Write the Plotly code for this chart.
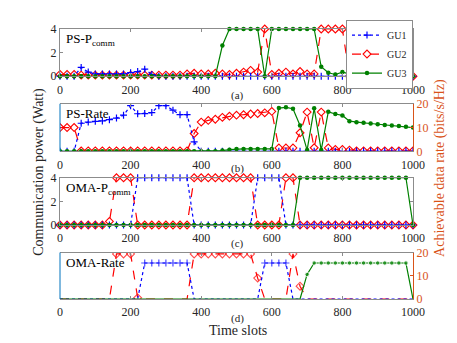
# PS / OMA comparison: communication power and achievable rate per GU
import plotly.graph_objects as go

slots = list(range(0, 1001, 20))

# PS - communication power (Watt)
ps_p_gu1 = [0, 0, 0, 0.75, 0.35, 0.2, 0.2, 0.2, 0.2, 0.2, 0.3, 0.4, 0.6, 0.15, 0, 0, 0,
            0, 0, 0, 0, 0, 0, 0, 0, 0, 0, 0, 0, 0, 0, 0, 0, 0, 0, 0, 0, 0, 0, 0, 0, 0,
            0, 0, 0, 0, 0, 0, 0, 0, 0]
ps_p_gu2 = [0.15, 0.15, 0.15, 0.1, 0.1, 0.1, 0.1, 0.1, 0.1, 0.1, 0.1, 0.1, 0.1, 0.1, 0.1,
            0.1, 0.1, 0.1, 0.2, 0.25, 0.2, 0.2, 0.25, 0.2, 0.15, 0.25, 0.35, 0.5, 0.35, 4,
            0.15, 0.25, 0.35, 0.2, 0.4, 0.2, 0.2, 4, 4, 4, 4, 0, 0, 0, 0, 0, 0, 0, 0, 0, 0]
ps_p_gu3 = [0, 0, 0, 0, 0, 0, 0, 0, 0, 0, 0, 0, 0, 0, 0, 0, 0, 0, 0, 0, 0, 0, 0, 2.6,
            4, 4, 4, 4, 4, 0, 4, 4, 4, 4, 4, 4, 4, 0.8, 0.3, 0.15, 0.35, 0.2, 0, 0, 0, 0,
            0, 0, 0, 0, 0]

# PS - achievable rate (bits/s/Hz)
ps_r_gu1 = [0, 0, 0, 11.8, 12.3, 12.6, 12.8, 13.3, 14, 15.2, 19.2, 15.8, 15.9, 16.3, 19.2,
            19.2, 17.3, 15.4, 15.4, 4, 0, 0, 0, 0, 0, 0, 0, 0, 0, 0, 0, 0, 0, 0, 0, 0, 0,
            0, 0, 0, 0, 0, 0, 0, 0, 0, 0, 0, 0, 0, 0]
ps_r_gu2 = [10, 10, 10, 0.2, 0.2, 0.2, 0.2, 0.2, 0.2, 0.2, 0.2, 0.2, 0.2, 0.2, 0.2, 0.2,
            0.2, 0.2, 0.2, 7.5, 12.3, 13, 13.5, 14.3, 14.8, 15.2, 15.4, 15.7, 15.9, 16.2,
            16.8, 1.4, 1.4, 1.4, 7.8, 16.5, 1.5, 16.5, 1.4, 0.8, 0.8, 0.5, 0.2, 0.2, 0.2,
            0.2, 0.2, 0.2, 0.2, 0.2, 0.2]
ps_r_gu3 = [0, 0, 0, 0, 0, 0, 0, 0, 0, 0, 0, 0, 0, 0, 0, 0, 0, 0, 0, 0, 0, 0, 0, 0.3,
            0.7, 1, 1, 1, 1, 1, 1, 18.2, 18.5, 17.9, 10.9, 0.5, 18.1, 0.5, 16.6, 15.7, 15.1,
            12.7, 12.2, 12, 11.7, 11.4, 11.1, 10.9, 10.6, 10.3, 10]

# OMA - communication power (Watt)
oma_p_gu1 = [0, 0, 0, 0, 0, 0, 0, 0, 0, 0, 0, 4, 4, 4, 4, 4, 4, 4, 4, 0, 0, 0, 0, 0, 0,
             0, 0, 0, 4, 4, 4, 4, 0, 0, 0, 0, 0, 0, 0, 0, 0, 0, 0, 0, 0, 0, 0, 0, 0, 0, 0]
oma_p_gu2 = [0, 0, 0, 0, 0, 0, 0, 0.3, 4, 4, 4, 0, 0, 0, 0, 0, 0, 0, 0, 4, 4, 4, 4, 4, 4,
             4, 4, 4, 0, 0, 0, 0, 4, 4, 0, 0, 0, 0, 0, 0, 0, 0, 0, 0, 0, 0, 0, 0, 0, 0, 0]
oma_p_gu3 = [0, 0, 0, 0, 0, 0, 0, 0, 0, 0, 0, 0, 0, 0, 0, 0, 0, 0, 0, 0, 0, 0, 0, 0, 0,
             0, 0, 0, 0, 0, 0, 0, 0, 0, 4, 4, 4, 4, 4, 4, 4, 4, 4, 4, 4, 4, 4, 4, 4, 4, 0]

# OMA - achievable rate (bits/s/Hz)
oma_r_gu1 = [0, 0, 0, 0, 0, 0, 0, 0, 0, 0, 0, 0, 15.5, 15.5, 15.5, 15.5, 15.5, 15.5, 15.5,
             0, 0, 0, 0, 0, 0, 0, 0, 0, 0, 15.5, 15.5, 15.5, 15.5, 0, 0, 0, 0, 0, 0, 0, 0,
             0, 0, 0, 0, 0, 0, 0, 0, 0, 0]
oma_r_gu2 = [0, 0, 0, 0, 0, 0, 0, 0, 19.4, 19.4, 19.4, 0.5, 0, 0, 0, 0, 0, 0, 0, 19.4,
             19.4, 19.4, 19.4, 19.4, 19.4, 19.4, 19.4, 19.4, 9, 0, 0, 0, 0, 19.4, 5.5, 0, 0,
             0, 0, 0, 0, 0, 0, 0, 0, 0, 0, 0, 0, 0, 0]
oma_r_gu3 = [0, 0, 0, 0, 0, 0, 0, 0, 0, 0, 0, 0, 0, 0, 0, 0, 0, 0, 0, 0, 0, 0, 0, 0, 0,
             0, 0, 0, 0, 0, 0, 0, 0, 0, 0, 10.6, 15.5, 15.5, 15.5, 15.5, 15.5, 15.5, 15.5,
             15.5, 15.5, 15.5, 15.5, 15.5, 15.5, 15.5, 0]

panel_titles = ['PS-P<sub>comm</sub>', 'PS-Rate', 'OMA-P<sub>comm</sub>', 'OMA-Rate']
panel_tags = ['(a)', '(b)', '(c)', '(d)']
x_ticks = [0, 200, 400, 600, 800, 1000]

FONT = 'Liberation Serif'
BLUE, RED, GREEN = 'rgb(0,0,255)', 'rgb(255,0,0)', 'rgb(0,128,0)'
ORANGE = '#D95319'
MBLUE = '#0072BD'
GRAY = '#8c8c8c'
TXT = '#262626'

styles = [
    dict(name='GU1', line=dict(color=BLUE, width=1.2, dash='dot'),
         marker=dict(symbol='cross-thin', size=5, color=BLUE, line=dict(width=1.2, color=BLUE))),
    dict(name='GU2', line=dict(color=RED, width=1.2, dash='dash'),
         marker=dict(symbol='diamond-open', size=6, color=RED, line=dict(width=1.1))),
    dict(name='GU3', line=dict(color=GREEN, width=1.2),
         marker=dict(symbol='circle', size=4.5, color=GREEN)),
]

panels = [
    (ps_p_gu1, ps_p_gu2, ps_p_gu3),
    (ps_r_gu1, ps_r_gu2, ps_r_gu3),
    (oma_p_gu1, oma_p_gu2, oma_p_gu3),
    (oma_r_gu1, oma_r_gu2, oma_r_gu3),
]

# panel domains (top to bottom)
domains = [[0.825, 1.0], [0.547, 0.723], [0.274, 0.449], [0.0, 0.172]]

fig = go.Figure()
# draw order: GU2, GU1, GU3 so green sits on top like the original
for k, series in enumerate(panels):
    sfx = '' if k == 0 else str(k + 1)
    is_rate = k in (1, 3)
    for i in (1, 0, 2):
        st = styles[i]
        vals = series[i]
        marker = dict(st['marker'])
        if k == 3:
            # markers on the zero line are not shown in the OMA-Rate panel
            marker['size'] = [marker['size'] if v > 0 else 0 for v in vals]
        fig.add_trace(go.Scatter(
            x=slots, y=vals, mode='lines+markers', name=st['name'],
            line=st['line'], marker=marker,
            legendrank=i, showlegend=(k == 0),
            cliponaxis=is_rate,
            xaxis='x' + sfx, yaxis='y' + sfx,
        ))

# page body has an 8px margin, so margins are shifted by 8px
layout = dict(
    width=457, height=343,
    margin=dict(l=52, r=52, t=17, b=52),
    paper_bgcolor='white', plot_bgcolor='white',
    font=dict(family=FONT, size=12, color=TXT),
    legend=dict(x=1, y=1.035, xanchor='right', yanchor='top', bgcolor='white',
                bordercolor=GRAY, borderwidth=1, font=dict(family=FONT, size=10),
                tracegroupgap=0, itemwidth=30),
    annotations=[], shapes=[],
)

for k in range(4):
    sfx = '' if k == 0 else str(k + 1)
    is_rate = k in (1, 3)
    layout['xaxis' + sfx] = dict(
        domain=[0, 1], anchor='y' + sfx, range=[0, 1000],
        tickvals=x_ticks, ticks='inside', ticklen=3, tickcolor=GRAY,
        showline=True, linecolor=GRAY, linewidth=1, mirror='ticks',
        showgrid=False, zeroline=False,
        tickfont=dict(family=FONT, size=12, color=TXT),
        ticklabelstandoff=2,
    )
    if is_rate:
        layout['yaxis' + sfx] = dict(
            domain=domains[k], anchor='x' + sfx, side='right', range=[0, 20],
            tickvals=[0, 10, 20], ticks='inside', ticklen=3, tickcolor=ORANGE,
            showline=True, linecolor=ORANGE, linewidth=1,
            showgrid=False, zeroline=False,
            tickfont=dict(family=FONT, size=12, color=ORANGE),
        )
        layout['shapes'].append(dict(
            type='line', xref='x%s domain' % sfx, yref='y%s domain' % sfx,
            x0=0, x1=0, y0=0, y1=1, line=dict(color=MBLUE, width=1)))
    else:
        layout['yaxis' + sfx] = dict(
            domain=domains[k], anchor='x' + sfx, range=[0, 4],
            tickvals=[0, 2, 4], ticks='inside', ticklen=3, tickcolor=GRAY,
            showline=True, linecolor=GRAY, linewidth=1, mirror='ticks',
            showgrid=False, zeroline=False,
            tickfont=dict(family=FONT, size=12, color=TXT),
        )
    layout['annotations'].append(dict(
        text=panel_titles[k], xref='x%s domain' % sfx, yref='y%s domain' % sfx,
        x=0.01, y=0.99, xanchor='left', yanchor='top', showarrow=False,
        font=dict(family=FONT, size=13, color='black')))

tag_y = [0.752, 0.482, 0.204, -0.073]
for k in range(4):
    layout['annotations'].append(dict(
        text=panel_tags[k], xref='paper', yref='paper', x=0.504, y=tag_y[k],
        xanchor='center', yanchor='middle', showarrow=False,
        font=dict(family=FONT, size=11, color=TXT)))

layout['annotations'] += [
    dict(text='Time slots', xref='paper', yref='paper', x=0.504, y=-0.117,
         xanchor='center', yanchor='middle', showarrow=False,
         font=dict(family=FONT, size=14, color=TXT)),
    dict(text='Communication power (Watt)', xref='paper', yref='paper',
         x=-0.0595, y=0.471, xanchor='center', yanchor='middle', textangle=-90,
         showarrow=False, font=dict(family=FONT, size=14, color=TXT)),
    dict(text='Achievable data rate (bits/s/Hz)', xref='paper', yref='paper',
         x=1.076, y=0.485, xanchor='center', yanchor='middle', textangle=-90,
         showarrow=False, font=dict(family=FONT, size=14, color=ORANGE)),
]

fig.update_layout(layout)
fig.write_html("out.html")
